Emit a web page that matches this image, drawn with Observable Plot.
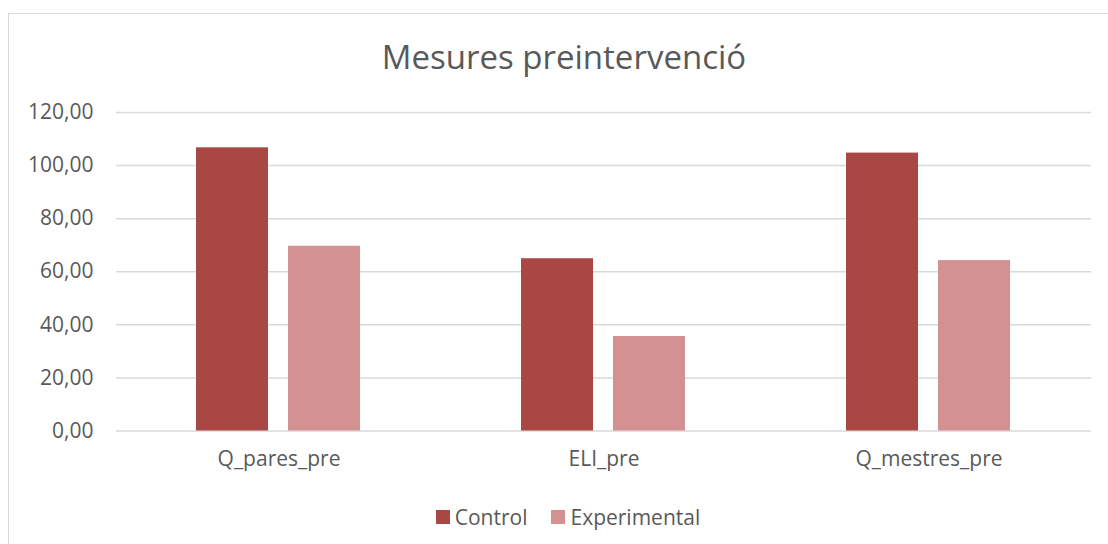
<!DOCTYPE html>
<html>
<head>
<meta charset="utf-8">
<script src="https://cdn.jsdelivr.net/npm/d3@7"></script>
<script src="https://cdn.jsdelivr.net/npm/@observablehq/plot@0.6"></script>
<style>
  html, body { margin: 0; padding: 0; background: #fff; overflow: hidden; width: 1108px; height: 544px; }
  #frame { position: absolute; left: 8px; top: 13px; width: 1200px; height: 600px; border-left: 1.5px solid #d9d9d9; border-top: 1.5px solid #d9d9d9; box-sizing: border-box; }
  #wrap { position: absolute; left: 0; top: 0; width: 1108px; }
  #title { height: 90px; line-height: 90px; padding-top: 12px; box-sizing: border-box; text-align: center; font-family: "Open Sans", sans-serif; font-size: 33px; color: #595959; padding-left: 20px; }
  #legend { display: flex; justify-content: center; align-items: center; font-family: "Open Sans", sans-serif; font-size: 21px; color: #595959; margin-top: 13px; padding-left: 28px; }
  .item { display: flex; align-items: center; margin: 0 12px; }
  .sw { width: 14px; height: 14px; margin-right: 5px; }
</style>
</head>
<body>
<div id="frame"></div>
<div id="wrap">
  <div id="title">Mesures preintervenció</div>
  <div id="chart"></div>
  <div id="legend"></div>
</div>
<script>
const categories = ["Q_pares_pre", "ELI_pre", "Q_mestres_pre"];
const series = ["Control", "Experimental"];
const controlValues = [106.7, 64.9, 104.7];
const experimentalValues = [69.6, 35.6, 64.2];
const yTicks = [0, 20, 40, 60, 80, 100, 120];
const colors = ["#a94744", "#d39291"];

const data = [];
categories.forEach((c, i) => {
  data.push({category: c, series: series[0], value: controlValues[i]});
  data.push({category: c, series: series[1], value: experimentalValues[i]});
});

const fmt = d => d.toFixed(2).replace(".", ",");

const chart = Plot.plot({
  width: 1108,
  height: 400,
  marginLeft: 115,
  marginRight: 16,
  marginTop: 22,
  marginBottom: 59.5,
  style: {fontFamily: "'Open Sans', sans-serif", fontSize: "21px", color: "#595959", background: "transparent"},
  fx: {domain: categories, padding: 0, label: null, tickSize: 0, tickPadding: 20, axis: "bottom"},
  x: {domain: series, paddingInner: 0.215, paddingOuter: 0.857, axis: null},
  y: {domain: [0, 120], ticks: yTicks, tickFormat: fmt, tickSize: 0, tickPadding: 23, label: null, axis: "left"},
  color: {domain: series, range: colors},
  marks: [
    Plot.ruleY(yTicks, {stroke: "#d9d9d9", strokeWidth: 1.5}),
    Plot.barY(data, {fx: "category", x: "series", y: "value", fill: "series"})
  ]
});
document.getElementById("chart").appendChild(chart);

const legend = document.getElementById("legend");
series.forEach((s, i) => {
  const item = document.createElement("div");
  item.className = "item";
  const sw = document.createElement("div");
  sw.className = "sw";
  sw.style.background = colors[i];
  const t = document.createElement("span");
  t.textContent = s;
  item.appendChild(sw);
  item.appendChild(t);
  legend.appendChild(item);
});
</script>
</body>
</html>
